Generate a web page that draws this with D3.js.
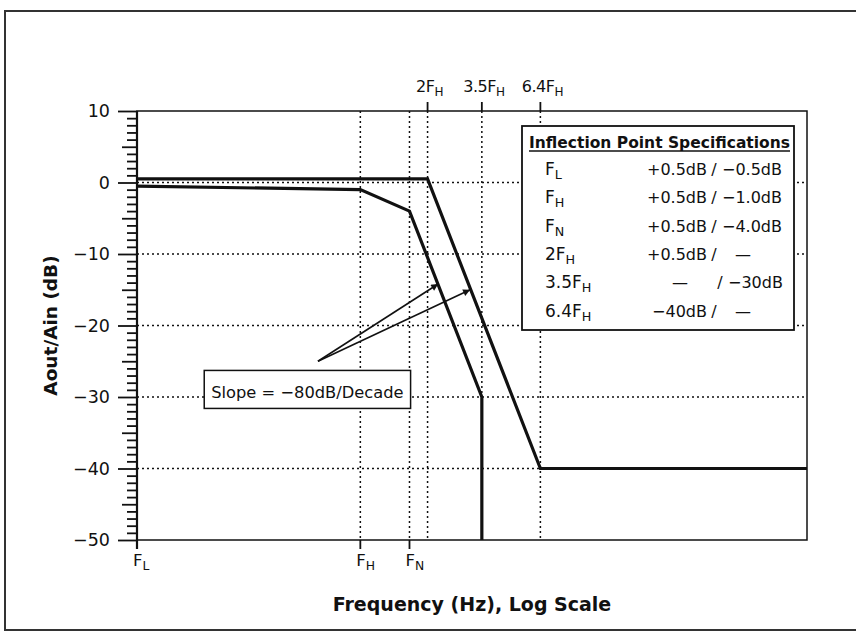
<!DOCTYPE html>
<html>
<head>
<meta charset="utf-8">
<script src="https://cdn.jsdelivr.net/npm/d3@7"></script>
<style>
  body { margin: 0; background: #fff; }
  text { font-family: "DejaVu Sans", Verdana, sans-serif; fill: #111; }
</style>
</head>
<body>
<svg id="chart" width="856" height="635"></svg>
<script>
// frequencies are in units of F_H, levels in dB
const upperLine = [[0.1, 0.5], [2, 0.5], [6.4, -40], [100, -40]];
const lowerLine = [[0.1, -0.5], [1, -1], [1.66, -4], [3.5, -30], [3.5, -50]];
const bottomFreqs = [0.1, 1, 1.66];
const bottomSubs = ['L', 'H', 'N'];
const topFreqs = [2, 3.5, 6.4];
const topCoefs = ['2', '3.5', '6.4'];
const vGridFreqs = [1, 1.66, 2, 3.5, 6.4];
const hGridDb = [0, -10, -20, -30, -40];
const yTicks = [10, 0, -10, -20, -30, -40, -50];
const legendCoefs = ['', '', '', '2', '3.5', '6.4'];
const legendSubs = ['L', 'H', 'N', 'H', 'H', 'H'];
const legendPlus = ['+0.5dB', '+0.5dB', '+0.5dB', '+0.5dB', '\u2014', '\u221240dB'];
const legendMinus = ['\u22120.5dB', '\u22121.0dB', '\u22124.0dB', '\u2014', '\u221230dB', '\u2014'];
const arrowFrom = [0.646, -25];
const arrowTo = [[2.23, -14.2], [3.1, -15]];
const slopeAt = [0.2, -30.2];
const slopeText = 'Slope = \u221280dB/Decade';

const svg = d3.select('#chart');
const x = d3.scaleLog().domain([0.1, 100]).range([137, 807]);
const y = d3.scaleLinear().domain([-50, 10]).range([540, 111]);
const fmt = d => d < 0 ? '\u2212' + Math.abs(d) : String(d);

// outer frame
svg.append('rect')
  .attr('x', 5).attr('y', 11).attr('width', 900).attr('height', 619)
  .attr('fill', 'none').attr('stroke', '#333').attr('stroke-width', 2);

// dotted grid
const grid = svg.append('g')
  .attr('stroke', '#111').attr('stroke-width', 1.5).attr('stroke-dasharray', '2,3');
grid.selectAll('.h').data(hGridDb).join('line')
  .attr('x1', x(0.1)).attr('x2', x(100))
  .attr('y1', d => y(d)).attr('y2', d => y(d));
grid.selectAll('.v').data(vGridFreqs).join('line')
  .attr('x1', d => x(d)).attr('x2', d => x(d))
  .attr('y1', y(10)).attr('y2', y(-50));

// plot frame
svg.append('rect')
  .attr('x', x(0.1)).attr('y', y(10))
  .attr('width', x(100) - x(0.1)).attr('height', y(-50) - y(10))
  .attr('fill', 'none').attr('stroke', '#111').attr('stroke-width', 1.5);

// y axis: major, half and minor ticks
const minor = d3.range(-50, 11).filter(d => d % 5 !== 0);
const half = d3.range(-45, 10, 10);
[[minor, 10], [half, 15], [yTicks, 19]].forEach(([vals, size]) => {
  const g = svg.append('g')
    .attr('transform', `translate(${x(0.1)},0)`)
    .call(d3.axisLeft(y).tickValues(vals).tickSize(size).tickFormat(''));
  g.select('.domain').remove();
  g.selectAll('line').attr('stroke', '#111').attr('stroke-width', 1.8);
});
svg.append('line')
  .attr('x1', x(0.1)).attr('x2', x(0.1)).attr('y1', y(10)).attr('y2', y(-50) + 9)
  .attr('stroke', '#111').attr('stroke-width', 2.2);
svg.append('g').selectAll('text').data(yTicks).join('text')
  .attr('x', 110).attr('y', d => y(d)).attr('dy', '0.36em')
  .attr('text-anchor', 'end').attr('font-size', 17.5)
  .text(fmt);

// x ticks (bottom and top)
svg.append('g').selectAll('line').data(bottomFreqs).join('line')
  .attr('x1', d => x(d)).attr('x2', d => x(d))
  .attr('y1', y(-50)).attr('y2', y(-50) + 9)
  .attr('stroke', '#111').attr('stroke-width', 1.8);
svg.append('g').selectAll('line').data(topFreqs).join('line')
  .attr('x1', d => x(d)).attr('x2', d => x(d))
  .attr('y1', y(10)).attr('y2', y(10) - 9)
  .attr('stroke', '#111').attr('stroke-width', 1.8);

function subLabel(sel, coef, sub, size) {
  sel.append('tspan').text(coef + 'F');
  sel.append('tspan').attr('dy', 4).attr('font-size', size * 0.75).text(sub);
}
bottomFreqs.forEach((f, i) => {
  svg.append('text')
    .attr('x', x(f) - 4).attr('y', 566).attr('font-size', 16.5)
    .call(subLabel, '', bottomSubs[i], 16.5);
});
topFreqs.forEach((f, i) => {
  svg.append('text')
    .attr('x', x(f) + 2).attr('y', 92).attr('font-size', 16)
    .attr('text-anchor', 'middle').attr('letter-spacing', -0.5)
    .call(subLabel, topCoefs[i], 'H', 16);
});

// response lines
const line = d3.line().x(d => x(d[0])).y(d => y(d[1]));
[upperLine, lowerLine].forEach(pts => {
  svg.append('path').attr('d', line(pts))
    .attr('fill', 'none').attr('stroke', '#111')
    .attr('stroke-width', 3.2).attr('stroke-linejoin', 'miter');
});

// legend
const lg = svg.append('g');
lg.append('rect')
  .attr('x', 522).attr('y', 126).attr('width', 272).attr('height', 204)
  .attr('fill', '#fff').attr('stroke', '#111').attr('stroke-width', 1.8);
lg.append('text')
  .attr('x', 529).attr('y', 148).attr('font-size', 15).attr('font-weight', 'bold')
  .attr('textLength', 261).attr('lengthAdjust', 'spacingAndGlyphs')
  .text('Inflection Point Specifications');
lg.append('line').attr('x1', 529).attr('x2', 790).attr('y1', 151).attr('y2', 151)
  .attr('stroke', '#111').attr('stroke-width', 1.5);
legendSubs.forEach((sub, i) => {
  const by = 175 + i * 28.3;
  lg.append('text').attr('x', 545).attr('y', by).attr('font-size', 17)
    .call(subLabel, legendCoefs[i], sub, 17);
  const p = legendPlus[i], m = legendMinus[i];
  lg.append('text').attr('y', by).attr('font-size', 16)
    .attr('x', p === '\u2014' ? 680 : 707).attr('text-anchor', p === '\u2014' ? 'middle' : 'end')
    .text(p);
  lg.append('text').attr('y', by).attr('font-size', 16)
    .attr('x', i === 4 ? 720 : 714).attr('text-anchor', 'middle').text('/');
  lg.append('text').attr('y', by).attr('font-size', 16)
    .attr('x', m === '\u2014' ? 743 : (i === 4 ? 728 : 722))
    .attr('text-anchor', m === '\u2014' ? 'middle' : 'start')
    .text(m);
});

// slope annotation
svg.append('defs').append('marker')
  .attr('id', 'arr').attr('viewBox', '0 0 10 10').attr('refX', 10).attr('refY', 5)
  .attr('markerWidth', 11).attr('markerHeight', 7).attr('markerUnits', 'userSpaceOnUse')
  .attr('orient', 'auto')
  .append('path').attr('d', 'M0,0L10,5L0,10Z').attr('fill', '#111');
svg.append('g').selectAll('line').data(arrowTo).join('line')
  .attr('x1', x(arrowFrom[0])).attr('y1', y(arrowFrom[1]))
  .attr('x2', d => x(d[0])).attr('y2', d => y(d[1]))
  .attr('stroke', '#111').attr('stroke-width', 1.6)
  .attr('marker-end', 'url(#arr)');
const sg = svg.append('g');
const sr = sg.append('rect').attr('fill', '#fff').attr('stroke', '#111').attr('stroke-width', 1.5);
const st = sg.append('text')
  .attr('x', x(slopeAt[0]) + 7).attr('y', y(slopeAt[1])).attr('font-size', 16.3)
  .text(slopeText);
const bb = st.node().getBBox();
sr.attr('x', bb.x - 7).attr('y', y(slopeAt[1]) - 28).attr('width', bb.width + 14).attr('height', 38);

// axis titles
svg.append('text')
  .attr('transform', `translate(57,${(y(10) + y(-50)) / 2}) rotate(-90)`)
  .attr('text-anchor', 'middle').attr('font-size', 18.5).attr('font-weight', 'bold')
  .text('Aout/Ain (dB)');
svg.append('text')
  .attr('x', (x(0.1) + x(100)) / 2).attr('y', 611)
  .attr('text-anchor', 'middle').attr('font-size', 19).attr('font-weight', 'bold')
  .text('Frequency (Hz), Log Scale');
</script>
</body>
</html>
